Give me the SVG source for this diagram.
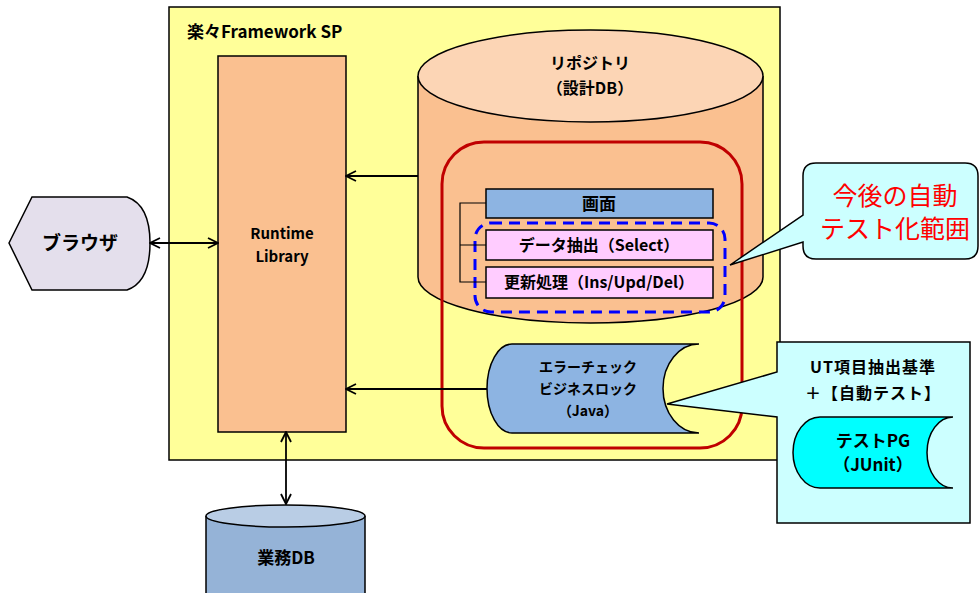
<svg xmlns="http://www.w3.org/2000/svg" width="979" height="593" viewBox="0 0 979 593">
<defs>
<style>
.t{font-family:"Noto Sans CJK JP","Noto Sans",sans-serif;font-weight:bold;fill:#000;text-anchor:middle}
.s{stroke:#000;stroke-width:1.5}
.ln{stroke:#000;stroke-width:1.8;fill:none}
.r{font-family:"Noto Sans CJK JP",sans-serif;font-size:25px;fill:#ff0000;text-anchor:middle}
</style>
<marker id="ah" viewBox="0 0 12 12" refX="11" refY="6" markerWidth="12" markerHeight="12" markerUnits="userSpaceOnUse" orient="auto-start-reverse">
<path d="M1,1 L11,6 L1,11" fill="none" stroke="#000" stroke-width="1.8"/>
</marker>
</defs>
<rect width="979" height="593" fill="#fff"/>
<g id="framework">
<rect x="169" y="7" width="611" height="453" fill="#ffff99" class="s"/>
<text x="187" y="38" class="t" style="text-anchor:start;font-size:17px">楽々Framework SP</text>
</g>
<g id="runtime">
<rect x="218" y="56" width="128" height="376" fill="#fac090" class="s"/>
<text x="282" y="239" class="t" style="font-size:15px">Runtime</text>
<text x="282" y="262" class="t" style="font-size:15px">Library</text>
</g>
<g id="repository">
<path d="M418,76 V277 A172.5,46 0 0 0 763,277 V76" fill="#fac090" class="s"/>
<ellipse cx="590.5" cy="76" rx="172.5" ry="46" fill="#fcd5b5" class="s"/>
<text x="590" y="69" class="t" style="font-size:16px">リポジトリ</text>
<text x="590" y="94" class="t" style="font-size:16px">（設計DB）</text>
</g>
<g id="scope">
<rect x="442" y="142" width="300" height="306" rx="42" fill="none" stroke="#c00000" stroke-width="3"/>
</g>
<g id="gamen">
<rect x="486" y="189" width="227" height="29" fill="#8db4e2" class="s"/>
<text x="599" y="210" class="t" style="font-size:17px">画面</text>
</g>
<g id="select">
<rect x="486" y="230" width="227" height="30" fill="#ffccff" class="s"/>
<text x="599" y="251" class="t" style="font-size:16px">データ抽出（Select）</text>
</g>
<g id="update">
<rect x="486" y="267" width="227" height="31" fill="#ffccff" class="s"/>
<text x="599" y="288" class="t" style="font-size:16px">更新処理（Ins/Upd/Del）</text>
</g>
<g id="autoscope">
<rect x="475" y="223" width="250" height="89" rx="16" fill="none" stroke="#0000ff" stroke-width="3" stroke-dasharray="11,7"/>
</g>
<g id="java">
<path d="M699,344 H512 A25,44.5 0 0 0 512,433 H699 A36,44.5 0 0 1 699,344 Z" fill="#8db4e2" class="s"/>
<text x="588" y="372" class="t" style="font-size:14px">エラーチェック</text>
<text x="588" y="394" class="t" style="font-size:14px">ビジネスロック</text>
<text x="588" y="416" class="t" style="font-size:14px">（Java）</text>
</g>
<g id="browser">
<path d="M9,243 L32,197 H127 Q150,205 150,243 Q150,282 127,290 H32 Z" fill="#e4dfec" class="s"/>
<text x="80" y="250" class="t" style="font-size:19px">ブラウザ</text>
</g>
<g id="gyomudb">
<path d="M206,516 V600 H365 V516" fill="#95b3d7" class="s"/>
<ellipse cx="285.5" cy="516" rx="79.5" ry="11" fill="#b9cde5" class="s"/>
<text x="286" y="564" class="t" style="font-size:17px">業務DB</text>
</g>
<g id="callout-ut">
<path d="M777,342 H970 V523 H777 V417 L667,404 L777,372 Z" fill="#ccffff" class="s"/>
<text x="873" y="373" class="t" style="font-size:16px;letter-spacing:1px">UT項目抽出基準</text>
<text x="873" y="399" class="t" style="font-size:16px;letter-spacing:1px">＋【自動テスト】</text>
</g>
<g id="testpg">
<path d="M953,417 H820 A27,35.5 0 0 0 820,488 H953 A26,35.5 0 0 1 953,417 Z" fill="#00ffff" class="s"/>
<text x="873" y="447" class="t" style="font-size:17px">テストPG</text>
<text x="873" y="471" class="t" style="font-size:17px">（JUnit）</text>
</g>
<g id="callout-future">
<path d="M816,163 H965 Q978,163 978,176 V246 Q978,259 965,259 H816 Q803,259 803,246 V242 L730,265 L803,215 V176 Q803,163 816,163 Z" fill="#ccffff" class="s"/>
<text x="895" y="205" class="r">今後の自動</text>
<text x="895" y="238" class="r">テスト化範囲</text>
</g>
<g id="connectors">
<line x1="150" y1="243" x2="218" y2="243" class="ln" marker-start="url(#ah)" marker-end="url(#ah)"/>
<line x1="418" y1="176" x2="346" y2="176" class="ln" marker-end="url(#ah)"/>
<line x1="487" y1="389" x2="346" y2="389" class="ln" marker-end="url(#ah)"/>
<line x1="286" y1="432" x2="286" y2="504" class="ln" marker-start="url(#ah)" marker-end="url(#ah)"/>
<path d="M486,203 H460 V282 H486 M460,245 H486" fill="none" stroke="#000" stroke-width="1.2"/>
</g>
</svg>
